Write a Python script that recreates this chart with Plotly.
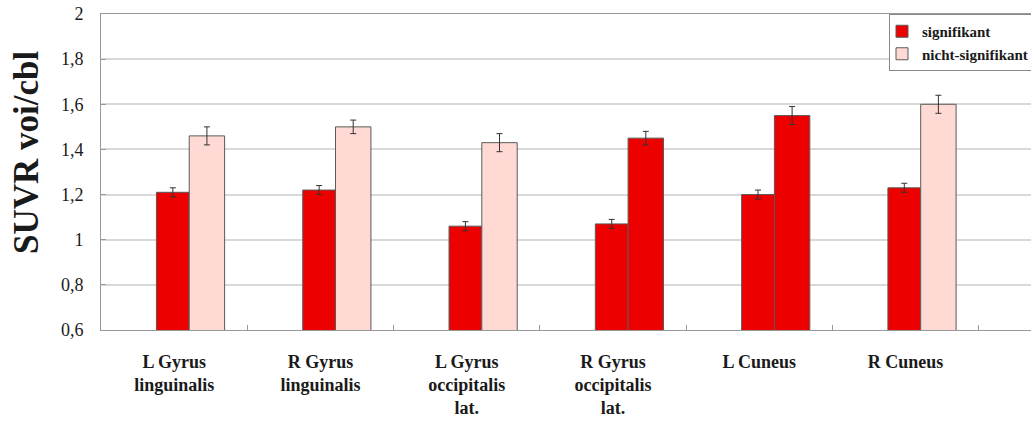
import plotly.graph_objects as go

categories = ["L Gyrus<br>linguinalis", "R Gyrus<br>linguinalis", "L Gyrus<br>occipitalis<br>lat.",
              "R Gyrus<br>occipitalis<br>lat.", "L Cuneus", "R Cuneus"]
values_first = [1.21, 1.22, 1.06, 1.07, 1.20, 1.23]
errors_first = [0.02, 0.02, 0.02, 0.02, 0.02, 0.02]
values_second = [1.46, 1.50, 1.43, 1.45, 1.55, 1.60]
errors_second = [0.04, 0.03, 0.04, 0.03, 0.04, 0.04]
second_significant = [False, False, False, True, True, False]

RED = "#EC0000"
PINK = "#FFDAD5"
FONT = "Liberation Serif"

OFF1, W1 = -0.121, 0.224
OFF2, W2 = 0.103, 0.242

sig_x, sig_y, sig_e, sig_off, sig_w = [], [], [], [], []
ns_x, ns_y, ns_e, ns_off, ns_w = [], [], [], [], []
for c, v, e in zip(categories, values_first, errors_first):
    sig_x.append(c); sig_y.append(v); sig_e.append(e); sig_off.append(OFF1); sig_w.append(W1)
for c, v, e, s in zip(categories, values_second, errors_second, second_significant):
    if s:
        sig_x.append(c); sig_y.append(v); sig_e.append(e); sig_off.append(OFF2); sig_w.append(W2)
    else:
        ns_x.append(c); ns_y.append(v); ns_e.append(e); ns_off.append(OFF2); ns_w.append(W2)

err_style = dict(type="data", visible=True, color="#333333", thickness=1, width=3)

fig = go.Figure()
fig.add_trace(go.Bar(
    name="signifikant", x=sig_x, y=sig_y, offset=sig_off, width=sig_w,
    marker=dict(color=RED, line=dict(color="#5a5a5a", width=1)),
    error_y=dict(array=sig_e, **err_style),
))
fig.add_trace(go.Bar(
    name="nicht-signifikant", x=ns_x, y=ns_y, offset=ns_off, width=ns_w,
    marker=dict(color=PINK, line=dict(color="#5a5a5a", width=1)),
    error_y=dict(array=ns_e, **err_style),
))

fig.update_layout(
    width=1031, height=421,
    margin=dict(l=101, r=0, t=14, b=91, pad=0, autoexpand=False),
    paper_bgcolor="white", plot_bgcolor="white",
    separators=", ",
    font=dict(family=FONT, color="#1a1a1a"),
    barmode="overlay",
    showlegend=True,
    legend=dict(
        x=(889 - 101) / 930, xanchor="left", y=1, yanchor="top",
        bgcolor="white", bordercolor="#888888", borderwidth=1,
        font=dict(family=FONT, size=15, color="#1a1a1a", weight="bold"),
        tracegroupgap=0, indentation=-8,
    ),
    xaxis=dict(
        type="category", categoryorder="array", categoryarray=categories,
        range=[-0.5, 5.857], automargin=False,
        tickson="boundaries", ticks="inside", ticklen=5, tickcolor="#999999",
        showline=True, linecolor="#999999", linewidth=1, mirror=True,
        showgrid=False, zeroline=False,
        tickfont=dict(family=FONT, size=18, color="#1a1a1a", weight="bold"),
        ticklabelstandoff=15,
    ),
    yaxis=dict(
        range=[0.6, 2.0], dtick=0.2, tick0=0.6, automargin=False,
        ticks="inside", ticklen=5, tickcolor="#999999",
        showline=True, linecolor="#999999", linewidth=1,
        showgrid=True, gridcolor="#d9d9d9", gridwidth=1.5,
        zeroline=False,
        tickfont=dict(family=FONT, size=18, color="#1a1a1a"),
        ticklabelstandoff=13,
    ),
    annotations=[dict(
        text="SUVR voi/cbl", xref="paper", yref="paper",
        x=(26 - 101) / 930, y=(330 - 153) / 316, xanchor="center", yanchor="middle",
        textangle=-90, showarrow=False,
        font=dict(family=FONT, size=35, color="#1a1a1a", weight="bold"),
    )],
)

fig.write_html("out.html")
